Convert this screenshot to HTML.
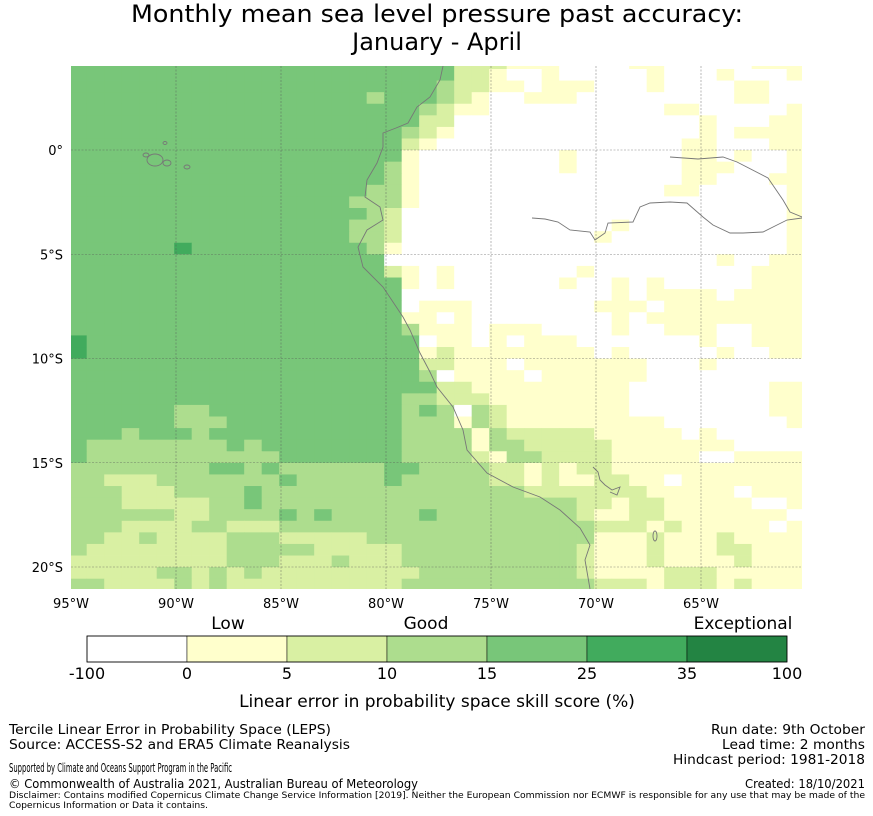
<!DOCTYPE html>
<html><head><meta charset="utf-8"><style>
html,body{margin:0;padding:0;background:#fff;}
svg{display:block;font-family:"DejaVu Sans","Liberation Sans",sans-serif;}
</style></head><body>
<svg id="chart" width="873" height="816" viewBox="0 0 873 816">
<g>
<text x="437" y="22" text-anchor="middle" font-size="24" textLength="612" lengthAdjust="spacingAndGlyphs">Monthly mean sea level pressure past accuracy:</text>
<text x="437" y="50" text-anchor="middle" font-size="24">January - April</text>
</g>
<defs><clipPath id="mapclip"><rect x="71" y="66" width="731" height="523"/></clipPath></defs>
<g id="cells" clip-path="url(#mapclip)"></g>
<g clip-path="url(#mapclip)" fill="none" stroke="#777" stroke-width="0.9">
<polyline points="443,66 440,80 430,97 417,107 408,123 396,128 383,133 383,147 377,163 367,180 365,197 380,207 383,220 367,230 358,247 363,267 383,287 395,305 403,317 410,330 420,353 430,372 437,387 453,407 463,430 467,450 487,473 513,487 540,497 560,510 580,528 590,545 585,560 590,589"/>
<polyline points="532,218 545,219 558,222 570,230 590,232 595,240 605,233 608,223 633,222 640,207 650,203 670,202 687,203 703,217 713,225 730,233 743,233 763,232 777,225 787,220 802,218"/>
<polyline points="670,157 698,159 723,157 737,162 768,178 783,200 790,212 802,217"/>
<polyline points="593,467 598,472 600,480 605,485 612,490 620,487 617,495 610,492"/>
<ellipse cx="155" cy="160" rx="8" ry="6"/>
<ellipse cx="167" cy="163" rx="4" ry="3"/>
<ellipse cx="146" cy="155" rx="3" ry="2"/>
<ellipse cx="187" cy="167" rx="3" ry="2"/>
<ellipse cx="165" cy="143" rx="2" ry="1.5"/>
<ellipse cx="655" cy="536" rx="2" ry="5"/>
</g>
<g id="grid"></g>
<g id="ticks" font-size="13" fill="#000"></g>
<g id="colorbar"></g>
<g font-size="13">
<text x="9" y="734" textLength="322" lengthAdjust="spacingAndGlyphs">Tercile Linear Error in Probability Space (LEPS)</text>
<text x="9" y="749" textLength="341" lengthAdjust="spacingAndGlyphs">Source: ACCESS-S2 and ERA5 Climate Reanalysis</text>
<text x="9" y="772" textLength="223" lengthAdjust="spacingAndGlyphs" font-size="12">Supported by Climate and Oceans Support Program in the Pacific</text>
<text x="9" y="788" textLength="409" lengthAdjust="spacingAndGlyphs" font-size="12">© Commonwealth of Australia 2021, Australian Bureau of Meteorology</text>
<text x="9" y="798" textLength="856" lengthAdjust="spacingAndGlyphs" font-size="9">Disclaimer: Contains modified Copernicus Climate Change Service Information [2019]. Neither the European Commission nor ECMWF is responsible for any use that may be made of the</text>
<text x="9" y="808" textLength="199" lengthAdjust="spacingAndGlyphs" font-size="9">Copernicus Information or Data it contains.</text>
<text x="865" y="734" text-anchor="end" textLength="154" lengthAdjust="spacingAndGlyphs">Run date: 9th October</text>
<text x="865" y="749" text-anchor="end" textLength="143" lengthAdjust="spacingAndGlyphs">Lead time: 2 months</text>
<text x="865" y="764" text-anchor="end" textLength="192" lengthAdjust="spacingAndGlyphs">Hindcast period: 1981-2018</text>
<text x="865" y="788" text-anchor="end" textLength="120" lengthAdjust="spacingAndGlyphs" font-size="12">Created: 18/10/2021</text>
</g>
</svg>
<script>
// Grid: 0.8333° lon x 0.5556° lat cells, rows from north to south
const lonStart = -95.086;   // west edge of first column
const latStart = 4.441;     // north edge of first row
const dLon = 0.8333;
const dLat = 0.5556;
const levelColors = ["#ffffff","#ffffcc","#d9f0a3","#addd8e","#78c679","#41ab5d","#238443"];
// Row data, run-length encoded "level:count"
const rows = [
"4:22 2:3 1:3 0:4 1:2 0:5 1:3",
"4:22 2:2 1:1 0:2 1:1 0:5 1:1 0:3 1:1 0:3 1:1",
"4:21 3:1 2:2 1:2 0:1 1:3 0:3 1:1 0:4 1:2 0:2",
"4:17 3:1 4:3 3:1 2:1 1:1 0:2 1:3 0:9 1:2 0:2",
"4:20 3:1 2:1 1:2 0:10 1:2 0:5 1:1",
"4:20 2:2 0:14 1:1 0:3 1:2",
"4:19 3:1 2:1 1:1 0:14 1:1 0:1 1:4",
"4:19 2:1 1:1 0:14 1:2 0:3 1:2",
"4:19 1:1 0:8 1:1 0:6 1:2 0:1 1:1 0:2 1:1",
"4:18 3:1 1:1 0:8 1:1 0:6 1:3 0:3 1:1",
"4:18 3:1 1:1 0:15 1:2 0:3 1:2",
"4:17 3:2 1:1 0:14 1:2 0:5 1:1",
"4:16 3:3 1:1 0:21 1:1",
"4:17 3:1 2:1 0:22 1:1",
"4:16 3:2 2:1 0:12 1:1 0:9 1:1",
"4:16 3:2 2:1 0:11 1:1 0:10 1:1",
"4:6 5:1 4:10 3:1 1:1 0:22 1:1",
"4:18 0:19 1:1 0:2 1:2",
"4:18 2:1 1:1 0:1 1:1 0:7 1:1 0:9 1:3",
"4:19 1:1 0:1 1:1 0:6 1:1 0:2 1:1 0:1 1:1 0:5 1:3",
"4:19 0:12 1:1 0:1 1:4 0:1 1:4",
"4:19 0:1 1:3 0:7 1:3 0:1 1:8",
"4:19 1:2 0:1 1:1 0:8 1:1 0:1 1:9",
"4:19 3:1 1:3 0:1 1:3 0:4 1:1 0:2 1:3 0:2 1:3",
"5:1 4:19 0:1 1:2 0:1 1:1 0:1 1:3 0:7 1:1 0:2 1:3",
"5:1 4:19 1:1 2:1 1:8 0:1 1:1 0:5 1:1 0:2 1:2",
"4:20 2:2 1:3 0:1 1:7 0:3 1:1 0:5",
"4:20 3:1 0:1 1:4 0:1 1:6 0:9",
"4:21 2:2 1:9 0:8 1:2",
"4:19 3:2 2:3 1:8 0:8 1:2",
"4:6 3:2 4:11 3:1 4:1 3:1 0:1 3:1 2:1 1:7 0:8 1:2",
"4:6 3:3 4:10 3:3 1:1 3:1 2:1 1:9 0:7 1:1",
"4:3 3:1 4:3 3:1 4:11 3:4 1:1 3:1 2:5 1:5 0:1 1:1 0:5",
"4:1 3:8 4:1 3:1 4:8 3:4 1:1 3:2 2:5 1:7 0:4",
"4:1 3:11 4:7 3:4 2:1 1:1 3:2 2:4 1:5 0:2 1:4",
"3:8 4:2 3:1 4:1 3:6 4:2 3:4 2:2 1:1 2:1 1:1 2:2 1:11",
"3:2 2:3 3:7 4:1 3:5 4:1 3:5 2:2 1:1 2:1 1:2 2:2 1:2 0:1 1:7",
"3:3 2:3 3:4 4:1 3:15 2:7 1:5 0:1 1:3",
"3:3 2:5 3:2 4:1 3:18 2:2 1:1 2:2 1:5 0:2 1:1",
"3:6 2:2 3:4 4:1 3:1 4:1 3:5 4:1 3:8 2:1 1:2 2:2 1:7 0:1",
"3:3 2:4 3:2 2:3 3:18 2:3 1:1 2:1 1:5 0:1 1:1",
"3:2 2:2 3:1 2:4 3:3 2:5 3:13 1:3 2:1 1:3 2:1 1:4",
"3:1 2:8 3:5 2:5 3:10 2:1 1:3 2:1 1:3 2:2 1:3",
"2:9 3:3 2:3 3:1 2:3 3:10 2:1 1:3 2:1 1:4 2:1 1:3",
"2:5 3:2 2:1 3:1 2:1 3:1 2:9 3:9 2:1 1:4 2:3 1:5",
"3:2 2:4 3:1 2:1 3:1 2:10 3:11 2:3 1:1 2:3 1:1 2:1 1:3"
];
const lonTicks = [-95,-90,-85,-80,-75,-70,-65];
const lonTickLabels = ["95°W","90°W","85°W","80°W","75°W","70°W","65°W"];
const latTicks = [0,-5,-10,-15,-20];
const latTickLabels = ["0°","5°S","10°S","15°S","20°S"];
const cbBounds = [-100,0,5,10,15,25,35,100];
const cbLabels = ["-100","0","5","10","15","25","35","100"];
const cbCategories = ["Low","Good","Exceptional"];

const NS="http://www.w3.org/2000/svg";
function xOf(lon){ return 71 + (lon + 95) * 21.0; }
function yOf(lat){ return 150 - lat * 20.85; }
function mk(tag, attrs, parent){ const e=document.createElementNS(NS,tag); for(const k in attrs) e.setAttribute(k, attrs[k]); parent.appendChild(e); return e; }

const cellsG=document.getElementById('cells');
rows.forEach((rowStr,r)=>{
  let c=0;
  rowStr.split(' ').forEach(tok=>{
    const [lv,n]=tok.split(':').map(Number);
    for(let i=0;i<n;i++,c++){
      const x0=xOf(lonStart+c*dLon), x1=xOf(lonStart+(c+1)*dLon);
      const y0=yOf(latStart-r*dLat), y1=yOf(latStart-(r+1)*dLat);
      const rect=mk('rect',{x:x0.toFixed(2),y:y0.toFixed(2),width:(x1-x0+0.4).toFixed(2),height:(y1-y0+0.4).toFixed(2),fill:levelColors[lv]},cellsG);
      
      
    }
  });
});

const gridG=document.getElementById('grid');
lonTicks.forEach(lon=>{
  const x=xOf(lon);
  if(x>71.5){
    const l=mk('line',{x1:x,y1:66,x2:x,y2:589,stroke:'#555','stroke-width':0.6,'stroke-dasharray':'2,1.5','stroke-opacity':0.7},gridG);
    
    
  }
});
latTicks.forEach(lat=>{
  const y=yOf(lat);
  const l=mk('line',{x1:71,y1:y,x2:802,y2:y,stroke:'#555','stroke-width':0.6,'stroke-dasharray':'2,1.5','stroke-opacity':0.7},gridG);
  
  
});

const ticksG=document.getElementById('ticks');
lonTicks.forEach((lon,i)=>{
  const t=mk('text',{x:xOf(lon),y:608,'text-anchor':'middle'},ticksG);
  t.textContent=lonTickLabels[i];
  
  
});
latTicks.forEach((lat,i)=>{
  const t=mk('text',{x:63,y:yOf(lat)+5,'text-anchor':'end'},ticksG);
  t.textContent=latTickLabels[i];
  
  
});

const cbG=document.getElementById('colorbar');
const cbX0=87, cbW=100, cbY=636, cbH=26;
for(let i=0;i<cbBounds.length-1;i++){
  const s=mk('rect',{x:cbX0+i*cbW,y:cbY,width:cbW,height:cbH,fill:levelColors[i],stroke:'#000','stroke-width':0.5},cbG);
  
  
}
mk('rect',{x:cbX0,y:cbY,width:cbW*7,height:cbH,fill:'none',stroke:'#000','stroke-width':0.8},cbG);
cbLabels.forEach((lb,i)=>{
  const t=mk('text',{x:cbX0+i*cbW,y:679,'text-anchor':'middle','font-size':16},cbG);
  t.textContent=lb;
  
  
});
const catX=[228,426,743];
cbCategories.forEach((lb,i)=>{
  const t=mk('text',{x:catX[i],y:629,'text-anchor':'middle','font-size':17},cbG);
  t.textContent=lb;
  
  
});
const ct=mk('text',{x:437,y:707,'text-anchor':'middle','font-size':17},cbG);
ct.textContent='Linear error in probability space skill score (%)';


</script>
</body></html>
